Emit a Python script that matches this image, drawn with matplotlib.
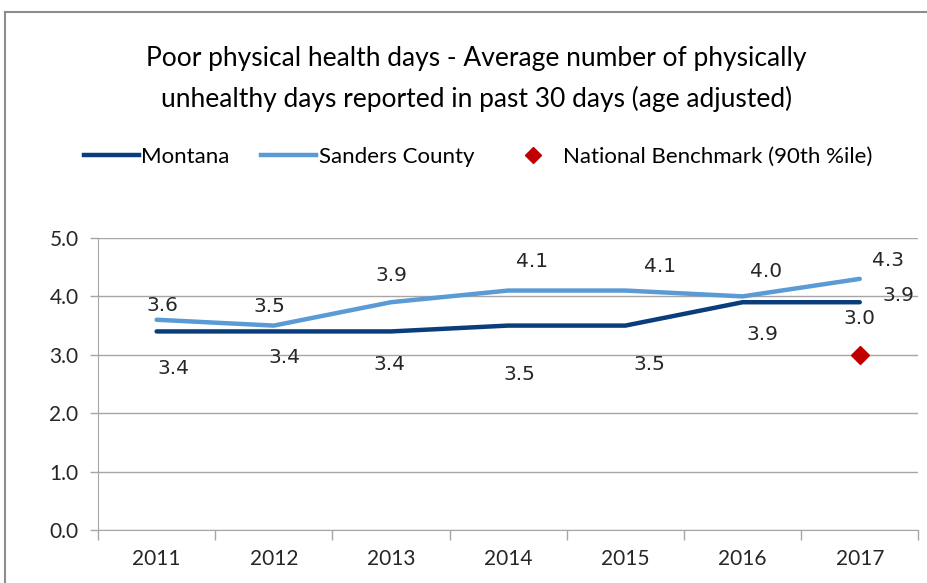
import numpy as np
import matplotlib.pyplot as plt
from matplotlib.lines import Line2D

years = ['2011', '2012', '2013', '2014', '2015', '2016', '2017']
montana = [3.4, 3.4, 3.4, 3.5, 3.5, 3.9, 3.9]
sanders = [3.6, 3.5, 3.9, 4.1, 4.1, 4.0, 4.3]
benchmark_year = '2017'
benchmark = 3.0

# label offsets (points) to mimic the original label placement
mt_off = [(12, -27), (8, -19), (-1, -24), (8, -35), (17, -28), (14, -23), (28, 5)]
sc_off = [(4, 10), (-3, 14), (0, 19), (17, 21), (25, 17), (17, 18), (20, 13)]

navy = '#0a3d7c'
light = '#5b9bd5'
red = '#c00000'
grid = '#a6a6a6'

fig = plt.figure(figsize=(9.28, 5.83), dpi=100)
ax = fig.add_axes([0.1056, 0.0909, 0.884, 0.5009])

x = np.arange(len(years))
ax.plot(x, montana, color=navy, lw=3.2, solid_capstyle='round', zorder=3)
ax.plot(x, sanders, color=light, lw=3.2, solid_capstyle='round', zorder=3)
bx = years.index(benchmark_year)
ax.plot([bx], [benchmark], marker='D', color=red, ms=9, ls='none', zorder=4)

lab_font = dict(family='DejaVu Sans', fontsize=14.5, color='#262626')
for i, v in enumerate(montana):
    ax.annotate(f'{v:.1f}', (x[i], v), xytext=mt_off[i], textcoords='offset points',
                ha='center', va='center', **lab_font)
for i, v in enumerate(sanders):
    ax.annotate(f'{v:.1f}', (x[i], v), xytext=sc_off[i], textcoords='offset points',
                ha='center', va='center', **lab_font)
ax.annotate(f'{benchmark:.1f}', (bx, benchmark), xytext=(0, 26), textcoords='offset points',
            ha='center', va='center', **lab_font)

ax.set_xlim(-0.5, len(years) - 0.5)
ax.set_ylim(0, 5)
ax.set_yticks(np.arange(0, 5.1, 1.0))
ax.set_yticklabels([f'{t:.1f}' for t in np.arange(0, 5.1, 1.0)])
ax.set_xticks(x)
ax.set_xticklabels(years)
ax.set_xticks(np.arange(-0.5, len(years), 1.0), minor=True)
ax.tick_params(axis='x', which='major', length=0, pad=14)
ax.tick_params(axis='x', which='minor', length=7, color=grid, width=1)
ax.tick_params(axis='y', length=6, color=grid, width=1, pad=8)
for lbl in ax.get_xticklabels() + ax.get_yticklabels():
    lbl.set_family('Lato')
    lbl.set_fontsize(15)
    lbl.set_color('#262626')

ax.grid(axis='y', color=grid, lw=1)
ax.set_axisbelow(True)
for s in ['top', 'right']:
    ax.spines[s].set_visible(False)
ax.spines['left'].set_color(grid)
ax.spines['bottom'].set_color(grid)

fig.text(0.513, 0.8645, 'Poor physical health days - Average number of physically\n'
         'unhealthy days reported in past 30 days (age adjusted)',
         ha='center', va='center', family='Lato', fontsize=19, linespacing=1.68,
         color='black')

handles = [Line2D([], [], color=navy, lw=3.2),
           Line2D([], [], color=light, lw=3.2),
           Line2D([], [], color=red, marker='D', ls='none', ms=8)]
fig.legend(handles, ['Montana', 'Sanders County', 'National Benchmark (90th %ile)'],
           loc='center', bbox_to_anchor=(0.515, 0.731), ncol=3, frameon=False,
           prop={'family': 'Lato', 'size': 16}, handlelength=2.5, handletextpad=0.1,
           columnspacing=1.4)

# outer chart border (only left and top visible in the crop)
fig.add_artist(Line2D([0.0055, 0.0055], [0, 0.979], color='#8c8c8c', lw=1.5,
                      transform=fig.transFigure))
fig.add_artist(Line2D([0.0055, 1], [0.979, 0.979], color='#8c8c8c', lw=1.5,
                      transform=fig.transFigure))

fig.savefig('out.png', dpi=100)
